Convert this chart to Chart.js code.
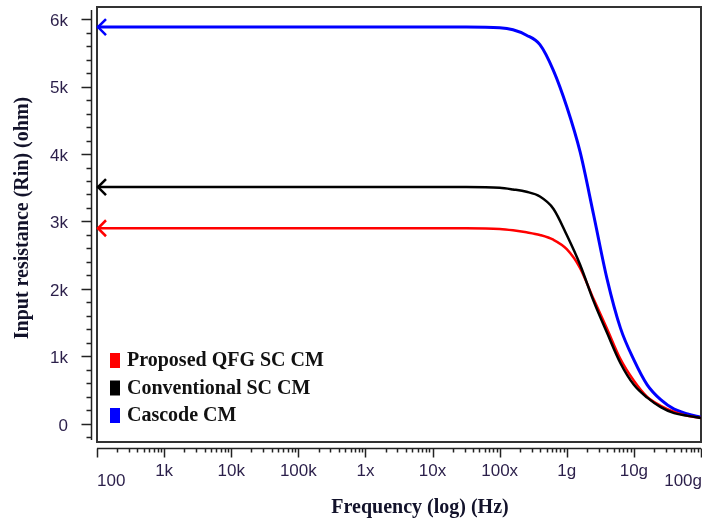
<!DOCTYPE html>
<html>
<head>
<meta charset="utf-8">
<title>Input resistance vs frequency</title>
<script src="https://cdn.jsdelivr.net/npm/chart.js@4.4.0/dist/chart.umd.min.js"></script>
<style>
    html, body { margin: 0; padding: 0; background: #fff; }
    #wrap { width: 702px; height: 522px; }
</style>
</head>
<body>
<div id="wrap"><canvas id="rin-chart" width="702" height="522"></canvas></div>
<script>
// Frequency points (Hz) the curves were read at
const freqHz = [1e2, 1e4, 1e6, 1e7, 3.16e7, 1e8, 1.58e8, 2.51e8, 3.98e8, 6.31e8, 1e9,
    1.58e9, 2.51e9, 3.98e9, 6.31e9, 1e10, 1.58e10, 2.51e10, 3.98e10, 6.31e10, 1e11];

// Input resistance (ohm) for each circuit
const proposedQfg = [2900, 2900, 2900, 2900, 2900, 2890, 2870, 2840, 2800, 2730, 2590,
    2310, 1850, 1410, 960, 640, 400, 270, 180, 120, 90];
const conventionalSc = [3510, 3510, 3510, 3510, 3510, 3500, 3475, 3440, 3370, 3190, 2800,
    2360, 1820, 1350, 900, 580, 390, 250, 160, 120, 90];
const cascode = [5880, 5880, 5880, 5880, 5880, 5870, 5840, 5760, 5620, 5240, 4700,
    4030, 3100, 2150, 1420, 950, 580, 360, 220, 150, 100];

const seriesLabels = ['Proposed QFG SC CM', 'Conventional SC CM', 'Cascode CM'];
const seriesColors = ['#ff0000', '#000000', '#0000ff'];

// Axis ticks
const xTickValues = [1e2, 1e3, 1e4, 1e5, 1e6, 1e7, 1e8, 1e9, 1e10, 1e11];
const xTickLabels = ['100', '1k', '10k', '100k', '1x', '10x', '100x', '1g', '10g', '100g'];
const yTickValues = [0, 1000, 2000, 3000, 4000, 5000, 6000];
const yTickLabels = ['0', '1k', '2k', '3k', '4k', '5k', '6k'];

const tickFont = '"Liberation Sans", Arial, sans-serif';
const tickColor = '#2b1f4a';

const toPoints = vals => vals.map((v, i) => ({ x: freqHz[i], y: v }));

// keep the plot box fixed: no extra room for overhanging tick labels
function noScalePadding(scale) {
    scale.paddingLeft = 0;
    scale.paddingRight = 0;
    scale.paddingTop = 0;
    scale.paddingBottom = 0;
}

// Frame, offset axes, start arrows, legend and axis titles
const rinDecor = {
    id: 'rinDecor',
    beforeDatasetsDraw(chart) {
        const ctx = chart.ctx;
        const a = chart.chartArea;
        const xs = chart.scales.x;
        const ys = chart.scales.y;
        ctx.save();

        // plot frame
        ctx.strokeStyle = '#333';
        ctx.lineWidth = 2;
        ctx.strokeRect(a.left, a.top, a.right - a.left, a.bottom - a.top);

        // y axis, set off to the left of the frame
        const axX = a.left - 5.5;
        ctx.lineWidth = 1.5;
        ctx.strokeStyle = '#222';
        ctx.beginPath();
        ctx.moveTo(axX, a.top + 3);
        ctx.lineTo(axX, a.bottom - 2);
        for (let v = -200; v <= 6000; v += 200) {
            const py = Math.round(ys.getPixelForValue(v)) + 0.5;
            const len = v % 1000 === 0 ? 10 : 5;
            ctx.moveTo(axX, py);
            ctx.lineTo(axX - len, py);
        }
        ctx.stroke();

        // x axis, set off below the frame
        const axY = a.bottom + 6.5;
        ctx.beginPath();
        ctx.moveTo(a.left, axY);
        ctx.lineTo(a.right, axY);
        for (let d = 2; d <= 11; d++) {
            for (let m = 1; m <= 9; m++) {
                const v = m * Math.pow(10, d);
                if (v > xs.max * 1.0001) break;
                const px = Math.round(xs.getPixelForValue(v)) + 0.5;
                const len = m === 1 ? 9 : 4;
                ctx.moveTo(px, axY);
                ctx.lineTo(px, axY + len);
            }
        }
        ctx.stroke();

        // end labels of the x axis sit lower and inside the plot width
        ctx.font = '17px ' + tickFont;
        ctx.fillStyle = tickColor;
        ctx.textBaseline = 'middle';
        const endY = a.bottom + 39;
        ctx.textAlign = 'left';
        ctx.fillText(xTickLabels[0], xs.getPixelForValue(xTickValues[0]), endY);
        ctx.textAlign = 'right';
        ctx.fillText(xTickLabels[xTickLabels.length - 1],
            xs.getPixelForValue(xTickValues[xTickValues.length - 1]) + 1, endY);
        ctx.restore();
    },
    afterDatasetsDraw(chart) {
        const ctx = chart.ctx;
        const a = chart.chartArea;
        const xs = chart.scales.x;
        const ys = chart.scales.y;
        ctx.save();

        // arrow heads at the start of each curve
        chart.data.datasets.forEach(ds => {
            const p = ds.data[0];
            const px = xs.getPixelForValue(p.x) + 1;
            const py = ys.getPixelForValue(p.y);
            ctx.strokeStyle = ds.borderColor;
            ctx.lineWidth = 2.5;
            ctx.beginPath();
            ctx.moveTo(px + 8, py - 8);
            ctx.lineTo(px, py);
            ctx.lineTo(px + 8, py + 8);
            ctx.stroke();
        });

        // legend, bottom-left inside the frame
        ctx.font = 'bold 20px "Liberation Serif", "Times New Roman", serif';
        ctx.textBaseline = 'middle';
        ctx.textAlign = 'left';
        chart.data.datasets.forEach((ds, i) => {
            const top = a.bottom - 89 + i * 27.5;
            ctx.fillStyle = ds.borderColor;
            ctx.fillRect(a.left + 13, top, 10, 15);
            ctx.fillStyle = '#111';
            ctx.fillText(ds.label, a.left + 30, top + 8);
        });

        // axis titles
        ctx.fillStyle = '#12122a';
        ctx.textAlign = 'center';
        ctx.textBaseline = 'alphabetic';
        ctx.fillText('Frequency (log) (Hz)', 420, 513);
        ctx.translate(28, 218);
        ctx.rotate(-Math.PI / 2);
        ctx.fillText('Input resistance (Rin) (ohm)', 0, 0);
        ctx.restore();
    }
};

function renderChart() {
    const ctx = document.getElementById('rin-chart').getContext('2d');
    const seriesValues = [proposedQfg, conventionalSc, cascode];
    const drawOrder = [1, 0, 2];

    const datasets = seriesValues.map((vals, i) => ({
        label: seriesLabels[i],
        data: toPoints(vals),
        borderColor: seriesColors[i],
        backgroundColor: seriesColors[i],
        borderWidth: i === 2 ? 3 : 2.5,
        pointRadius: 0,
        cubicInterpolationMode: 'monotone',
        order: drawOrder[i]
    }));

    new Chart(ctx, {
        type: 'line',
        data: { datasets: datasets },
        plugins: [rinDecor],
        options: {
            responsive: false,
            animation: false,
            layout: { padding: { left: 0, top: 7, right: 1, bottom: 0 } },
            plugins: {
                legend: { display: false },
                tooltip: { enabled: false }
            },
            scales: {
                x: {
                    type: 'logarithmic',
                    min: 1e2,
                    max: 1e11,
                    grid: { display: false, drawTicks: false },
                    border: { display: false },
                    afterBuildTicks: scale => {
                        scale.ticks = xTickValues.map(v => ({ value: v }));
                    },
                    afterFit: scale => {
                        scale.height = 80;
                        noScalePadding(scale);
                    },
                    ticks: {
                        autoSkip: false,
                        maxRotation: 0,
                        minRotation: 0,
                        padding: 24,
                        color: tickColor,
                        font: { family: tickFont, size: 17, lineHeight: '10px' },
                        // first and last labels are drawn by the plugin
                        callback: (value, index) =>
                            (index === 0 || index === xTickLabels.length - 1) ? '' : xTickLabels[index]
                    }
                },
                y: {
                    type: 'linear',
                    min: -267,
                    max: 6178,
                    grid: { display: false, drawTicks: false },
                    border: { display: false },
                    afterBuildTicks: scale => {
                        scale.ticks = yTickValues.map(v => ({ value: v }));
                    },
                    afterFit: scale => {
                        scale.width = 97;
                        noScalePadding(scale);
                    },
                    ticks: {
                        padding: 29,
                        labelOffset: 2,
                        color: tickColor,
                        font: { family: tickFont, size: 17 },
                        callback: (value, index) => yTickLabels[index]
                    }
                }
            }
        }
    });
}

document.addEventListener('DOMContentLoaded', renderChart);
</script>
</body>
</html>
